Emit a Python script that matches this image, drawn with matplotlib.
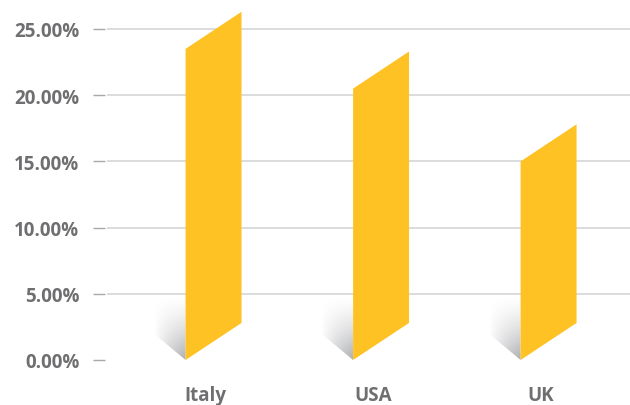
import numpy as np
import matplotlib.pyplot as plt
from matplotlib.patches import Polygon

countries = ["Italy", "USA", "UK"]
shares = [23.5, 20.5, 15.0]          # percent
yticks = [0, 5, 10, 15, 20, 25]

bar_color = "#FEC225"
text_color = "#6F6F71"

plt.rcParams['font.family'] = ['Open Sans', 'DejaVu Sans']

fig = plt.figure(figsize=(6.3, 4.06), dpi=100)
ax = fig.add_axes([105 / 630, 45 / 406, 525 / 630, 357.5 / 406])
ax.set_xlim(-0.6, 2.534)
ax.set_ylim(0, 27)

# bar geometry (data units)
offset, width, skew = -0.119, 0.334, 2.8
sh_w, sh_h, sh_rise = 0.19, 4.9, 2.0

for i, v in enumerate(shares):
    x0 = i + offset
    x1 = x0 + width
    ax.add_patch(Polygon([(x0, 0), (x1, skew), (x1, v + skew), (x0, v)],
                         closed=True, facecolor=bar_color, edgecolor="none", zorder=3))

    # soft grey shadow falling to the left of the bar foot
    nx, ny = 80, 80
    xs = np.linspace(x0 - sh_w, x0, nx)
    ys = np.linspace(0, sh_h, ny)
    X, Y = np.meshgrid(xs, ys)
    u = (x0 - X) / sh_w
    base = sh_rise * u
    vv = np.clip((Y - base) / (sh_h - base + 1e-9), 0, 1)
    alpha = 0.55 * (1 - u) ** 1.1 * (1 - vv) ** 1.4
    rgba = np.zeros((ny, nx, 4))
    rgba[..., :3] = (0.42, 0.43, 0.45)
    rgba[..., 3] = np.clip(alpha, 0, 1)
    im = ax.imshow(rgba, extent=[x0 - sh_w, x0, 0, sh_h], origin="lower",
                   aspect="auto", interpolation="bilinear", zorder=2)
    clip = Polygon([(x0, 0), (x0 - sh_w, sh_rise), (x0 - sh_w, sh_h), (x0, sh_h)],
                   closed=True, transform=ax.transData)
    im.set_clip_path(clip)

for y in yticks[1:]:
    ax.axhline(y, xmin=3 / 525, color="#DCDCDC", lw=1.4, zorder=1)

ax.set_yticks(yticks)
ax.set_yticklabels([f"{t:.2f}%" for t in yticks])
ax.set_xticks([0, 1, 2])
ax.set_xticklabels(countries)
ax.tick_params(axis="y", length=9, width=1.0, color="#A8A8A8", pad=9.5,
               labelsize=13.5, labelcolor=text_color)
ax.tick_params(axis="x", length=0, pad=18, labelsize=13.5, labelcolor=text_color)
for lab in ax.get_yticklabels() + ax.get_xticklabels():
    lab.set_fontweight("bold")
for s in ax.spines.values():
    s.set_visible(False)

fig.savefig("out.png", dpi=100)
